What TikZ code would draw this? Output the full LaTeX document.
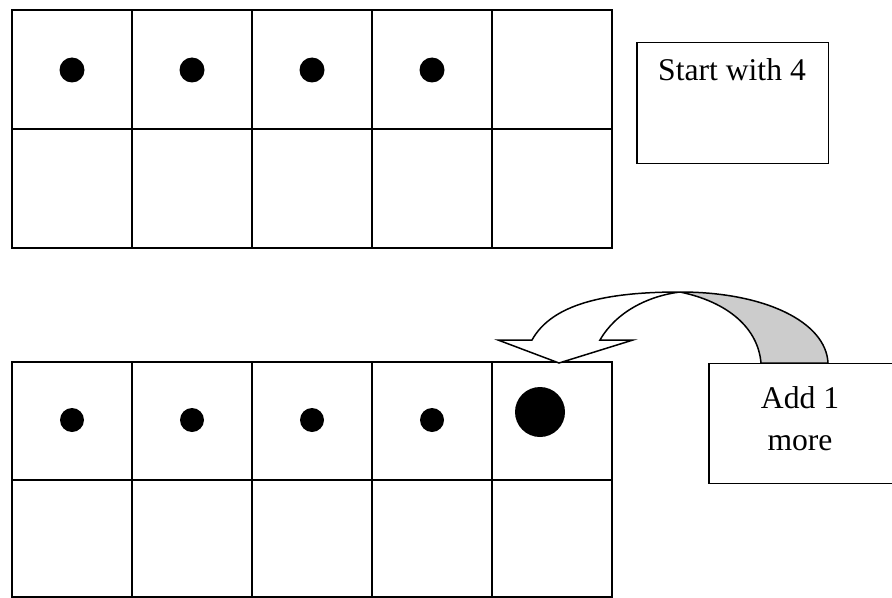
\documentclass[tikz,border=0pt]{standalone}
\usepackage{fontspec}
\setmainfont{Liberation Serif}
\begin{document}
\begin{tikzpicture}[x=0.02cm,y=-0.02cm,line width=0.85pt,
  every node/.style={font=\fontsize{18}{24}\selectfont},
  labelbox/.style={draw,line width=0.85pt,anchor=north west,inner sep=0pt}]
\useasboundingbox (0,0) rectangle (892,598);
% top ten-frame: four counters
\draw (12,10) rectangle (612,248);
\draw (12,129) -- (612,129);
\foreach \x in {132,252,372,492} \draw (\x,10) -- (\x,248);
\foreach \x in {72,192,312,432} \fill (\x,70) circle[radius=12.5];
% label box top
\node[labelbox,minimum width=3.84cm,minimum height=2.42cm] (startbox) at (636,42) {};
\node (start) at (732,70) {Start with 4};
% bottom ten-frame: one more counter
\draw (12,362) rectangle (612,597);
\draw (12,480) -- (612,480);
\foreach \x in {132,252,372,492} \draw (\x,362) -- (\x,597);
\foreach \x in {72,192,312,432} \fill (\x,420) circle[radius=12];
\fill (540,412) circle[radius=25];
% label box bottom (runs off the right edge)
\node[labelbox,minimum width=4.2cm,minimum height=2.4cm] (addbox) at (708,363) {};
\node[align=center] (add) at (800,419) {Add 1\\more};
% curved arrow: back face shaded, front face white
\coordinate (apex) at (680,292);
\filldraw[fill=black!20] (apex) .. controls (765,292) and (826,322) .. (828,363)
  -- (761,363) .. controls (758,328) and (728,302) .. (apex);
\filldraw[fill=white] (532,340) .. controls (552,304) and (605,292) .. (apex)
  .. controls (648,296) and (616,312) .. (600,340)
  -- (633,340) -- (559,363) -- (498,340) -- cycle;
\end{tikzpicture}
\end{document}
